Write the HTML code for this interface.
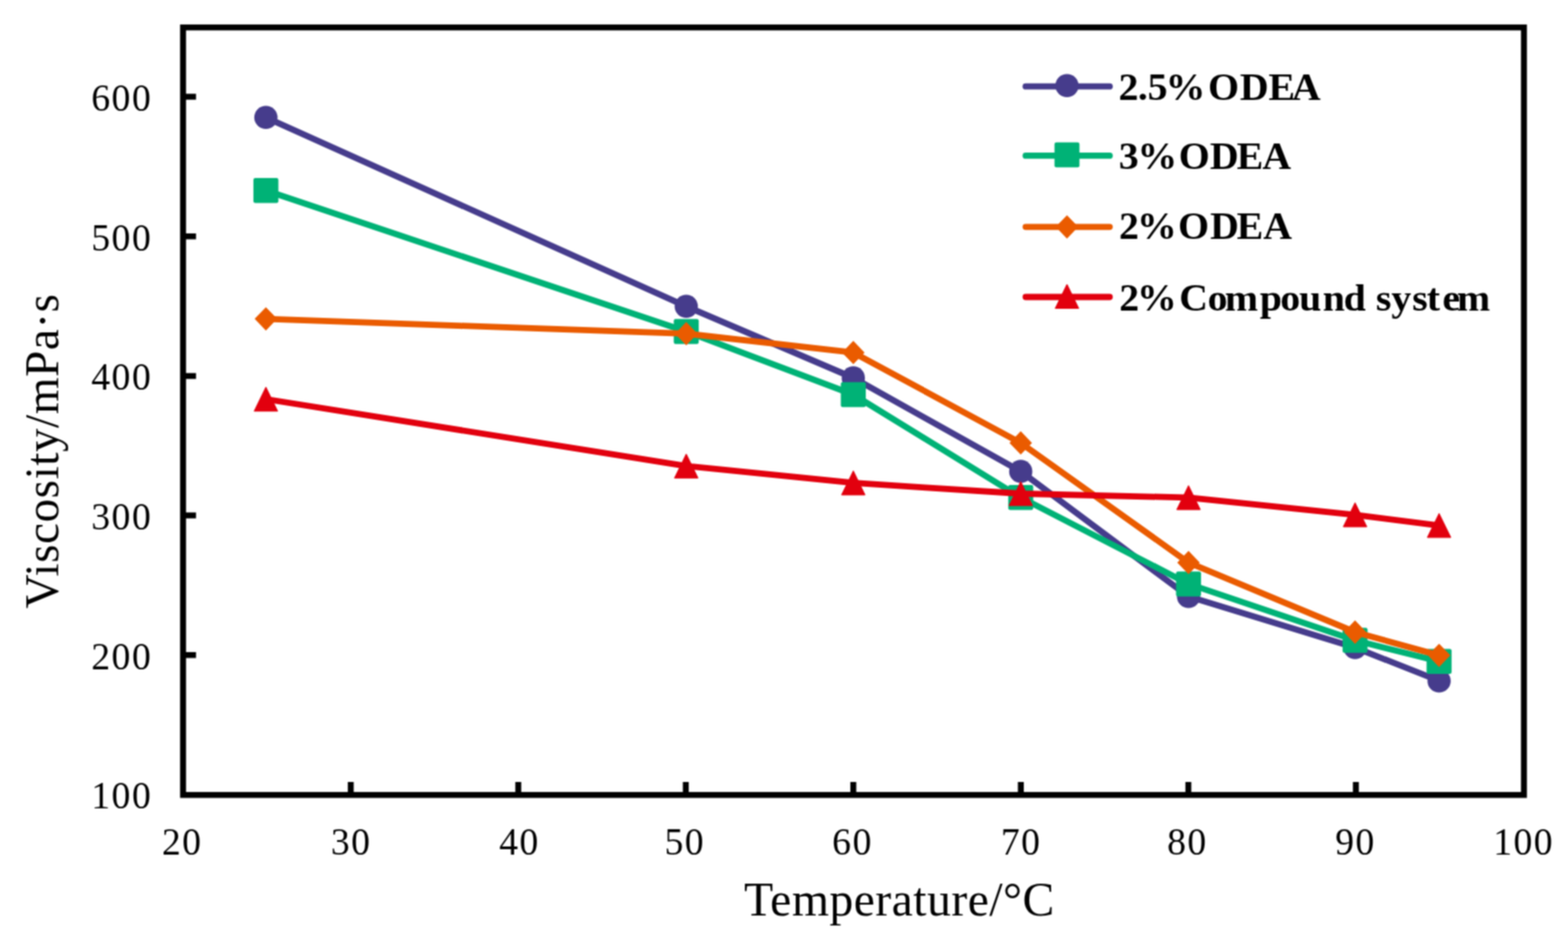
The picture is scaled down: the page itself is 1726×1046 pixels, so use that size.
<!DOCTYPE html>
<html><head><meta charset="utf-8"><title>Viscosity vs Temperature</title>
<style>html,body{margin:0;padding:0;background:#fff;}body{width:1726px;height:1046px;overflow:hidden;}svg{display:block;}</style>
</head><body>
<svg width="1726" height="1046" viewBox="0 0 1726 1046">
<defs><filter id="soft" filterUnits="userSpaceOnUse" x="0" y="0" width="1726" height="1046" color-interpolation-filters="sRGB"><feConvolveMatrix order="3" kernelMatrix="1 2 1 2 4 2 1 2 1" divisor="16" edgeMode="duplicate" preserveAlpha="true"/></filter></defs>
<g filter="url(#soft)">
<rect width="1726" height="1046" fill="#fff"/>
<polyline points="292.7,129.3 755.4,337.3 939.3,416 1123.6,519 1308.3,656.8 1491.6,713 1584.1,749.7" fill="none" stroke="#463C8C" stroke-width="6.8" stroke-linejoin="round" stroke-linecap="round"/>
<circle cx="292.7" cy="129.3" r="12.8" fill="#463C8C"/>
<circle cx="755.4" cy="337.3" r="12.8" fill="#463C8C"/>
<circle cx="939.3" cy="416" r="12.8" fill="#463C8C"/>
<circle cx="1123.6" cy="519" r="12.8" fill="#463C8C"/>
<circle cx="1308.3" cy="656.8" r="12.8" fill="#463C8C"/>
<circle cx="1491.6" cy="713" r="12.8" fill="#463C8C"/>
<circle cx="1584.1" cy="749.7" r="12.8" fill="#463C8C"/>
<polyline points="292.7,209.7 755.4,365 939.3,434.5 1123.6,547.8 1308.3,642.9 1491.6,705 1584.1,728.3" fill="none" stroke="#00B276" stroke-width="6.8" stroke-linejoin="round" stroke-linecap="round"/>
<rect x="278.95" y="195.95" width="27.5" height="27.5" rx="2" fill="#00B276"/>
<rect x="741.65" y="351.25" width="27.5" height="27.5" rx="2" fill="#00B276"/>
<rect x="925.55" y="420.75" width="27.5" height="27.5" rx="2" fill="#00B276"/>
<rect x="1109.85" y="534.05" width="27.5" height="27.5" rx="2" fill="#00B276"/>
<rect x="1294.55" y="629.15" width="27.5" height="27.5" rx="2" fill="#00B276"/>
<rect x="1477.85" y="691.25" width="27.5" height="27.5" rx="2" fill="#00B276"/>
<rect x="1570.35" y="714.55" width="27.5" height="27.5" rx="2" fill="#00B276"/>
<polyline points="292.7,351.1 755.4,367.4 939.3,388.2 1123.6,487.7 1308.3,619.4 1491.6,696 1584.1,721.6" fill="none" stroke="#EA5B00" stroke-width="6.8" stroke-linejoin="round" stroke-linecap="round"/>
<path d="M292.7 338.2L305.1 351.1L292.7 364L280.3 351.1Z" fill="#EA5B00"/>
<path d="M755.4 354.5L767.8 367.4L755.4 380.3L743 367.4Z" fill="#EA5B00"/>
<path d="M939.3 375.3L951.7 388.2L939.3 401.1L926.9 388.2Z" fill="#EA5B00"/>
<path d="M1123.6 474.8L1136 487.7L1123.6 500.6L1111.2 487.7Z" fill="#EA5B00"/>
<path d="M1308.3 606.5L1320.7 619.4L1308.3 632.3L1295.9 619.4Z" fill="#EA5B00"/>
<path d="M1491.6 683.1L1504 696L1491.6 708.9L1479.2 696Z" fill="#EA5B00"/>
<path d="M1584.1 708.7L1596.5 721.6L1584.1 734.5L1571.7 721.6Z" fill="#EA5B00"/>
<polyline points="292.7,439.5 755.4,513.1 939.3,531.7 1123.6,543.5 1308.3,547.9 1491.6,566.8 1584.1,578.6" fill="none" stroke="#E2000E" stroke-width="6.8" stroke-linejoin="round" stroke-linecap="round"/>
<path d="M292.7 426.3L305.6 452.7L279.8 452.7Z" fill="#E2000E" stroke="#E2000E" stroke-width="1" stroke-linejoin="round"/>
<path d="M755.4 499.9L768.3 526.3L742.5 526.3Z" fill="#E2000E" stroke="#E2000E" stroke-width="1" stroke-linejoin="round"/>
<path d="M939.3 518.5L952.2 544.9L926.4 544.9Z" fill="#E2000E" stroke="#E2000E" stroke-width="1" stroke-linejoin="round"/>
<path d="M1123.6 530.3L1136.5 556.7L1110.7 556.7Z" fill="#E2000E" stroke="#E2000E" stroke-width="1" stroke-linejoin="round"/>
<path d="M1308.3 534.7L1321.2 561.1L1295.4 561.1Z" fill="#E2000E" stroke="#E2000E" stroke-width="1" stroke-linejoin="round"/>
<path d="M1491.6 553.6L1504.5 580L1478.7 580Z" fill="#E2000E" stroke="#E2000E" stroke-width="1" stroke-linejoin="round"/>
<path d="M1584.1 565.4L1597 591.8L1571.2 591.8Z" fill="#E2000E" stroke="#E2000E" stroke-width="1" stroke-linejoin="round"/>
<rect x="201.5" y="30.2" width="1476" height="845.1" fill="none" stroke="#000" stroke-width="6.5" stroke-linejoin="miter"/>
<path d="M386.1 875.3V861.05M570.5 875.3V861.05M754.9 875.3V861.05M939.3 875.3V861.05M1123.7 875.3V861.05M1308.1 875.3V861.05M1492.5 875.3V861.05M201.5 721.3H215.75M201.5 567.6H215.75M201.5 413.9H215.75M201.5 260.2H215.75M201.5 106.5H215.75" stroke="#000" stroke-width="6.5" fill="none"/>
<g font-family="Liberation Serif, serif" font-size="41.5" letter-spacing="1.6" fill="#000">
<text x="100.53" y="890.3">100</text>
<text x="100.53" y="736.6">200</text>
<text x="100.53" y="582.9">300</text>
<text x="100.53" y="429.2">400</text>
<text x="100.53" y="275.5">500</text>
<text x="100.53" y="121.8">600</text>
</g>
<g font-family="Liberation Serif, serif" font-size="41.5" letter-spacing="1.6" fill="#000">
<text x="178.23" y="940.6">20</text>
<text x="364.15" y="940.6">30</text>
<text x="549.44" y="940.6">40</text>
<text x="731.53" y="940.6">50</text>
<text x="916.05" y="940.6">60</text>
<text x="1101.67" y="940.6">70</text>
<text x="1284.65" y="940.6">80</text>
<text x="1469.67" y="940.6">90</text>
<text x="1643.64" y="940.6">100</text>
</g>
<text x="990" y="1008.4" font-family="Liberation Serif, serif" font-size="52.5" letter-spacing="0.5" text-anchor="middle">Temperature/°C</text>
<text transform="translate(63.8,496.5) rotate(-90)" font-family="Liberation Serif, serif" font-size="52" letter-spacing="0.6" text-anchor="middle">Viscosity/mPa·s</text>
<line x1="1129" y1="95.2" x2="1221.5" y2="95.2" stroke="#463C8C" stroke-width="6.8" stroke-linecap="round"/>
<circle cx="1174.5" cy="94.3" r="12.8" fill="#463C8C"/>
<text transform="scale(1.06,1)" x="1161.67 1181.6 1191.77 1210.48 1254.61 1287.55 1317.29 1341.62" y="109.6" font-family="Liberation Serif, serif" font-weight="bold" font-size="41.5">2.5%ODEA</text>
<line x1="1129" y1="171.4" x2="1221.5" y2="171.4" stroke="#00B276" stroke-width="6.8" stroke-linecap="round"/>
<rect x="1160.75" y="156.85" width="27.5" height="27.5" rx="2" fill="#00B276"/>
<text transform="scale(1.06,1)" x="1161.87 1181.19 1224 1256.42 1284.09 1310.86" y="186" font-family="Liberation Serif, serif" font-weight="bold" font-size="41.5">3%ODEA</text>
<line x1="1129" y1="249.8" x2="1221.5" y2="249.8" stroke="#EA5B00" stroke-width="6.8" stroke-linecap="round"/>
<path d="M1174.5 236.9L1186.9 249.8L1174.5 262.7L1162.1 249.8Z" fill="#EA5B00"/>
<text transform="scale(1.06,1)" x="1161.96 1180.62 1223.44 1256.51 1284.09 1311.71" y="263.3" font-family="Liberation Serif, serif" font-weight="bold" font-size="41.5">2%ODEA</text>
<line x1="1129" y1="327" x2="1221.5" y2="327" stroke="#E2000E" stroke-width="6.8" stroke-linecap="round"/>
<path d="M1174.5 313.1L1187.4 339.5L1161.6 339.5Z" fill="#E2000E" stroke="#E2000E" stroke-width="1" stroke-linejoin="round"/>
<text transform="scale(1.06,1)" x="1162.24 1180.62 1224.45 1254.06 1271.9 1308.24 1329.44 1349.03 1373.69 1395.35 1418.43 1428.88 1444.91 1466.57 1481.71 1497.79 1512.94" y="341.8" font-family="Liberation Serif, serif" font-weight="bold" font-size="41.5">2%Compound system</text>
</g>
</svg>
</body></html>
